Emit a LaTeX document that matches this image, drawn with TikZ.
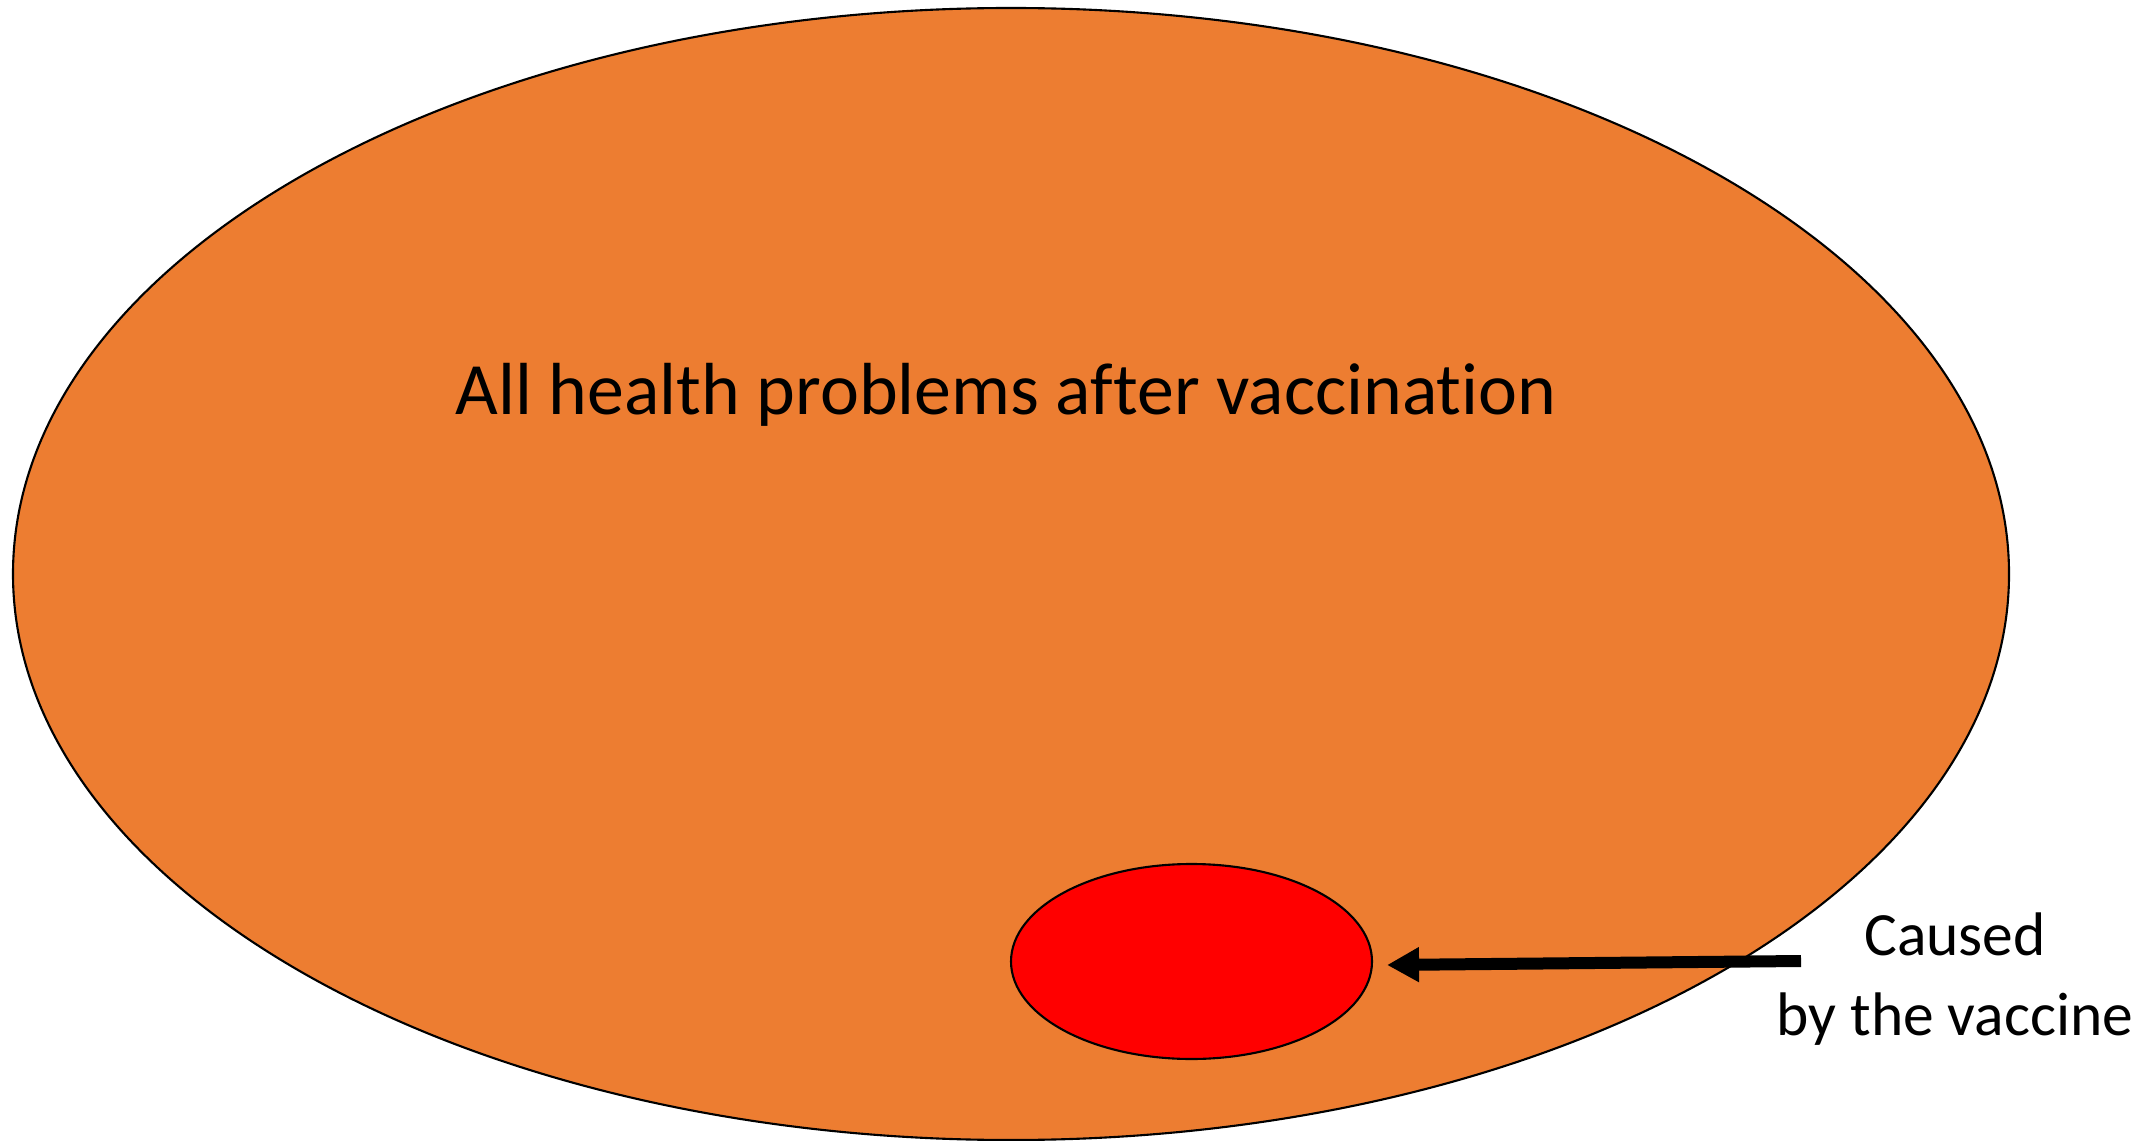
\documentclass[tikz,border=0pt]{standalone}
\usepackage{fontspec}
\setmainfont{Carlito}[Ligatures=NoCommon]
\usepackage{xcolor}
\usetikzlibrary{arrows.meta}
\usetikzlibrary{shapes.geometric, math}
\definecolor{myorange}{RGB}{237,125,49}
\definecolor{myred}{RGB}{255,0,0}

\begin{document}
\begin{tikzpicture}[
  blob/.style={ellipse, draw=black, line width=0.6pt, inner sep=0pt},
  pointer/.style={-{Triangle[length=3.2mm,width=3.3mm]}, line width=1.2mm}
]
\tikzmath{
\W=21.34;
\H=11.41;
}
\useasboundingbox (0,0) rectangle (\W,-\H);
\clip (0,0) rectangle (\W,-\H);

\node[blob, fill=myorange, minimum width=19.96cm, minimum height=11.32cm] (all) at (10.11,-5.74) {};
\node[anchor=base, font=\fontsize{21}{25}\selectfont] (alltext) at (10.06,-4.15) {All health problems after vaccination};

\node[blob, fill=myred, minimum width=3.61cm, minimum height=1.95cm] (vax) at (11.915,-9.615) {};

%\draw[dashed] (vax.west) -- (vax.east);
\coordinate (tail) at (18.01,-9.61);
\draw[pointer] (tail) -- ([xshift=1.4mm,yshift=-0.35mm]vax.east);

\node[anchor=base, align=center, font=\fontsize{17.5}{22.7}\selectfont] (cause) at (19.55,-10.35) {Caused\\by the vaccine};

\end{tikzpicture}
\end{document}
